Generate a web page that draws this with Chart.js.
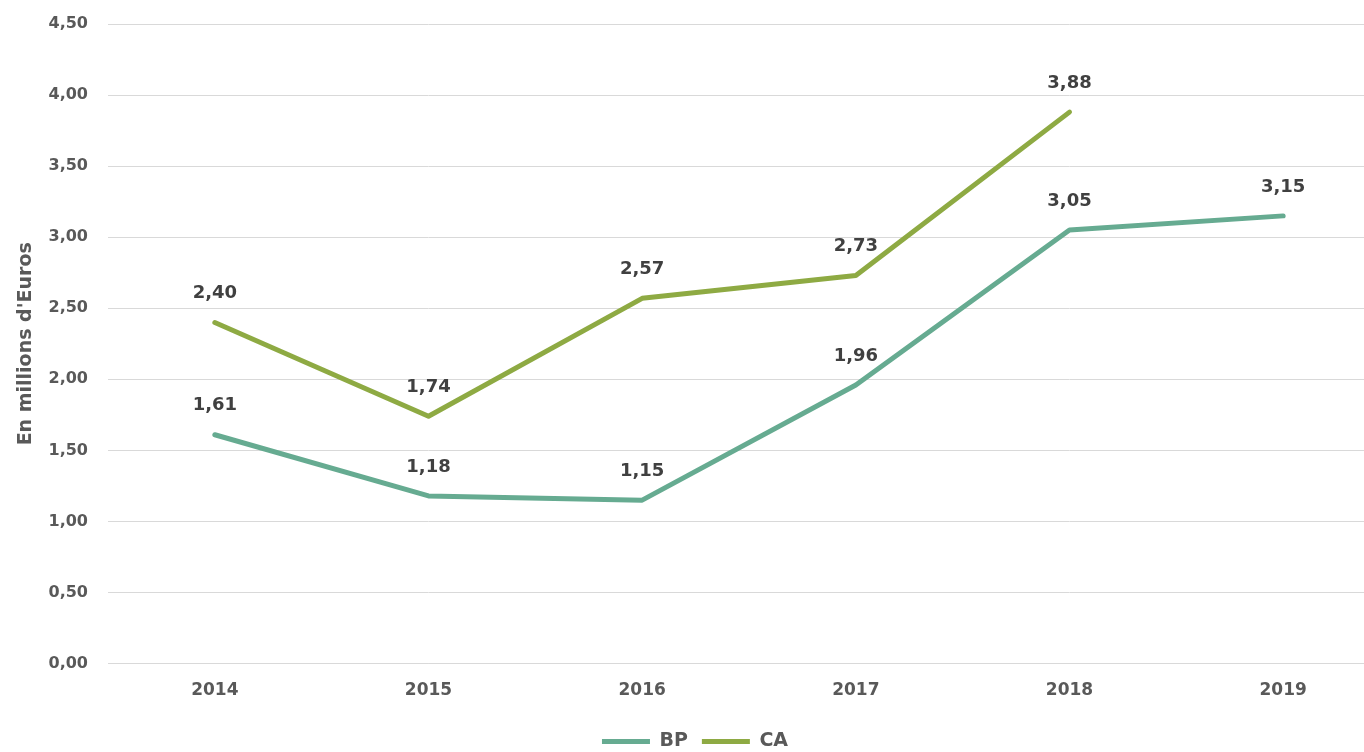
<!DOCTYPE html>
<html>
<head>
<meta charset="utf-8">
<script src="https://cdn.jsdelivr.net/npm/chart.js@4/dist/chart.umd.min.js"></script>
<style>
  html, body { margin: 0; padding: 0; background: #fff; overflow: hidden; }
  #wrap { width: 1390px; height: 752px; }
</style>
</head>
<body>
<div id="wrap"><canvas id="chart"></canvas></div>
<script>
// données du graphique
let years = ['2014', '2015', '2016', '2017', '2018', '2019'];
let bpValues = [1.61, 1.18, 1.15, 1.96, 3.05, 3.15];
let caValues = [2.40, 1.74, 2.57, 2.73, 3.88, null];
let yTicks = [0, 0.5, 1, 1.5, 2, 2.5, 3, 3.5, 4, 4.5];

let fmt = (v) => v.toFixed(2).replace('.', ',');
let FONT = '"DejaVu Sans", sans-serif';

// étiquettes au-dessus des points
let pointLabels = {
    id: 'pointLabels',
    afterDatasetsDraw(chart) {
        let ctx = chart.ctx;
        ctx.save();
        ctx.font = 'bold 18px ' + FONT;
        ctx.fillStyle = '#404040';
        ctx.textAlign = 'center';
        ctx.textBaseline = 'middle';
        chart.data.datasets.forEach((ds, i) => {
            chart.getDatasetMeta(i).data.forEach((pt, j) => {
                if (ds.data[j] == null) return;
                ctx.fillText(fmt(ds.data[j]), pt.x, pt.y - 29);
            });
        });
        ctx.restore();
    }
};

new Chart(document.getElementById('chart'), {
    type: 'line',
    data: {
        labels: years,
        datasets: [
            {
                label: 'BP',
                data: bpValues,
                borderColor: '#66ab91',
                backgroundColor: '#66ab91',
                borderWidth: 5,
                borderCapStyle: 'round',
                borderJoinStyle: 'round',
                pointRadius: 0,
                tension: 0
            },
            {
                label: 'CA',
                data: caValues,
                borderColor: '#8eaa43',
                backgroundColor: '#8eaa43',
                borderWidth: 5,
                borderCapStyle: 'round',
                borderJoinStyle: 'round',
                pointRadius: 0,
                tension: 0
            }
        ]
    },
    options: {
        responsive: true,
        maintainAspectRatio: false,
        animation: false,
        layout: { padding: { top: 0, right: 0, left: 0, bottom: -9 } },
        plugins: {
            legend: {
                position: 'bottom',
                labels: {
                    usePointStyle: true,
                    pointStyle: 'line',
                    pointStyleWidth: 48,
                    boxHeight: 5,
                    padding: 14,
                    color: '#595959',
                    font: { family: FONT, size: 19, weight: 'bold' }
                }
            },
            tooltip: { enabled: false }
        },
        scales: {
            x: {
                offset: true,
                grid: { display: false, drawTicks: false },
                border: { color: '#d9d9d9', width: 1 },
                ticks: {
                    color: '#595959',
                    padding: 17,
                    font: { family: FONT, size: 17, weight: 'bold' }
                }
            },
            y: {
                min: 0,
                max: 4.5,
                afterBuildTicks: (axis) => { axis.ticks = yTicks.map(v => ({ value: v })); },
                afterFit: (axis) => { axis.width = 108; },
                grid: { color: '#d9d9d9', lineWidth: 1, drawTicks: false },
                border: { display: false },
                ticks: {
                    color: '#595959',
                    padding: 20,
                    callback: (v) => fmt(v),
                    font: { family: FONT, size: 16, weight: 'bold', lineHeight: 0.5 }
                },
                title: {
                    display: true,
                    text: "En millions d'Euros",
                    color: '#595959',
                    padding: { top: 15, bottom: 0 },
                    font: { family: FONT, size: 19, weight: 'bold' }
                }
            }
        }
    },
    plugins: [pointLabels]
});
</script>
</body>
</html>
